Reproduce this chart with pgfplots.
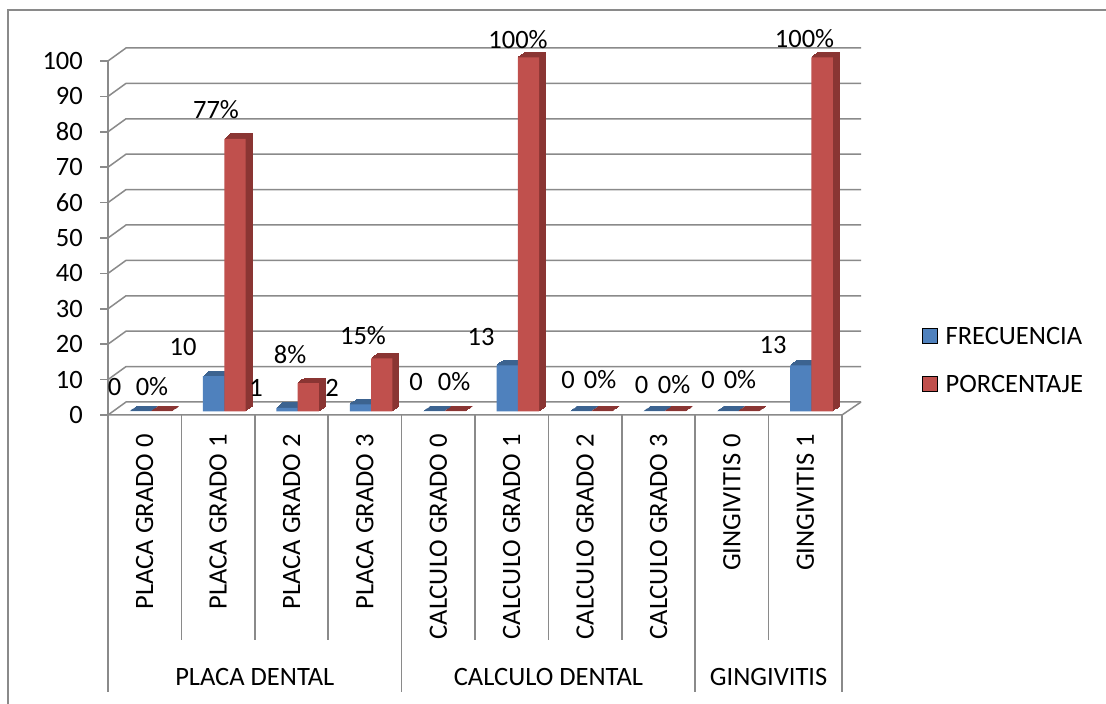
\documentclass[border=0pt]{standalone}
\usepackage{fontspec}
\setmainfont{Carlito}
\usepackage{pgfplots}
\usepackage{pgfplotstable}
\pgfplotsset{compat=1.18}

\definecolor{frec}{HTML}{4F81BD}
\definecolor{frecdk}{HTML}{3C6390}
\definecolor{porc}{HTML}{C0504D}
\definecolor{porcdk}{HTML}{8A3533}
\definecolor{gridc}{HTML}{8A8A8A}
\newcommand\lbl{\fontsize{26.6}{32}\selectfont}

% frequency and percentage per category
\pgfplotstableread{
idx frec porc
0   0    0
1   10   77
2   1    8
3   2    15
4   0    0
5   13   100
6   0    0
7   0    0
8   0    0
9   13   100
}\datatable

\begin{document}
\begin{tikzpicture}[x=1bp,y=1bp]
\useasboundingbox (0,0) rectangle (1106,704);
\fill[white] (0,0) rectangle (1106,704);
\draw[gridc, line width=1.5bp] (8,-20) -- (8,694) -- (1130,694);
\begin{axis}[
  at={(108bp,289bp)}, anchor=south west,
  scale only axis, width=734bp, height=354bp,
  xmin=-0.5, xmax=9.5, ymin=0, ymax=100,
  clip=false,
  axis x line*=bottom, axis y line*=left,
  x axis line style={draw=none},
  y axis line style={gridc, line width=1.5bp},
  ytick={0,10,...,100},
  tick align=outside, major tick length=8bp,
  ytick style={gridc, line width=1.5bp},
  xtick style={draw=none},
  xtick={0,...,9},
  xticklabels={PLACA GRADO 0,PLACA GRADO 1,PLACA GRADO 2,PLACA GRADO 3,CALCULO GRADO 0,CALCULO GRADO 1,CALCULO GRADO 2,CALCULO GRADO 3,GINGIVITIS 0,GINGIVITIS 1},
  tick label style={font=\lbl},
  /pgf/number format/assume math mode=true,
  xticklabel style={yshift=-11bp, rotate=90, anchor=east, inner sep=0pt},
  yticklabel style={anchor=east, inner sep=0pt, xshift=-17bp},
  legend image code/.code={\fill[#1] (0bp,-7.5bp) rectangle (15bp,7.5bp);},
  legend style={at={(axis description cs:1.109,0.155)}, anchor=west,
    draw=none, fill=none, inner sep=0pt, font=\lbl, row sep=31bp,
    column sep=8bp, nodes={inner sep=0pt, text height=17bp, text depth=0bp}},
  legend cell align=left,
]
% back wall, side wall and floor
\pgfplotsinvokeforeach{0,10,20,30,40,50,60,70,80,90,100}{
  \draw[gridc, line width=1.5bp] (axis cs:-0.5,#1) -- ([shift={(18bp,13bp)}]axis cs:-0.5,#1)
    -- ([shift={(19bp,13bp)}]axis cs:9.5,#1);
}
\draw[gridc, line width=1.5bp] (axis cs:-0.5,0) -- (axis cs:9.5,0)
  -- ([shift={(19bp,13bp)}]axis cs:9.5,0);
% category dividers
\pgfplotsinvokeforeach{0.5,1.5,2.5,4.5,5.5,6.5,8.5}{
  \draw[gridc, line width=1.5bp] (axis cs:#1,0) -- ++(0bp,-225bp);
}
\pgfplotsinvokeforeach{-0.5,3.5,7.5,9.5}{
  \draw[gridc, line width=1.5bp] (axis cs:#1,0) -- ++(0bp,-277bp);
}

% FRECUENCIA: depth, then front face
\pgfplotsinvokeforeach{1,2,3,4,5,6}{
  \addplot[ybar, bar width=21.3bp, bar shift=-4.5bp, fill=frecdk, draw=frecdk,
    line width=1bp, xshift=#1*1.083bp, yshift=3.5bp+#1*0.833bp, forget plot]
    table[x=idx, y=frec] {\datatable};
}
\addplot[ybar, bar width=21.3bp, bar shift=-4.5bp, fill=frec, draw=none,
  yshift=3.5bp, forget plot] table[x=idx, y=frec] {\datatable};

% PORCENTAJE: depth, then front face
\pgfplotsinvokeforeach{1,2,3,4,5,6}{
  \addplot[ybar, bar width=21.3bp, bar shift=16.8bp, fill=porcdk, draw=porcdk,
    line width=1bp, xshift=#1*1.083bp, yshift=3.5bp+#1*0.833bp, forget plot]
    table[x=idx, y=porc] {\datatable};
}
\addplot[ybar, bar width=21.3bp, bar shift=16.8bp, fill=porc, draw=none,
  yshift=3.5bp, forget plot] table[x=idx, y=porc] {\datatable};

\addlegendimage{fill=frec}
\addlegendentry{FRECUENCIA}
\addlegendimage{fill=porc}
\addlegendentry{PORCENTAJE}

% value labels
\begin{scope}[every node/.style={font=\lbl, inner sep=0pt}]
\node at (axis cs:-0.411,7.91) {0};
\node at (axis cs:0.522,19.21) {10};
\node at (axis cs:1.516,7.63) {1};
\node at (axis cs:2.552,7.63) {2};
\node at (axis cs:3.696,9.32) {0};
\node at (axis cs:4.582,22.03) {13};
\node at (axis cs:5.767,9.89) {0};
\node at (axis cs:6.768,8.47) {0};
\node at (axis cs:7.674,9.89) {0};
\node at (axis cs:8.560,19.77) {13};
\node at (axis cs:0.099,7.91) {0\%};
\node at (axis cs:0.971,86.16) {77\%};
\node at (axis cs:1.980,16.95) {8\%};
\node at (axis cs:2.974,22.32) {15\%};
\node at (axis cs:4.214,9.32) {0\%};
\node at (axis cs:5.086,105.93) {100\%};
\node at (axis cs:6.203,9.89) {0\%};
\node at (axis cs:7.211,8.47) {0\%};
\node at (axis cs:8.110,9.89) {0\%};
\node at (axis cs:8.989,106.2) {100\%};
\end{scope}

% group names
\node[font=\lbl] at ([yshift=-262bp]axis cs:1.5,0) {PLACA DENTAL};
\node[font=\lbl] at ([yshift=-262bp]axis cs:5.5,0) {CALCULO DENTAL};
\node[font=\lbl] at ([yshift=-262bp]axis cs:8.5,0) {GINGIVITIS};
\end{axis}
\end{tikzpicture}
\end{document}
